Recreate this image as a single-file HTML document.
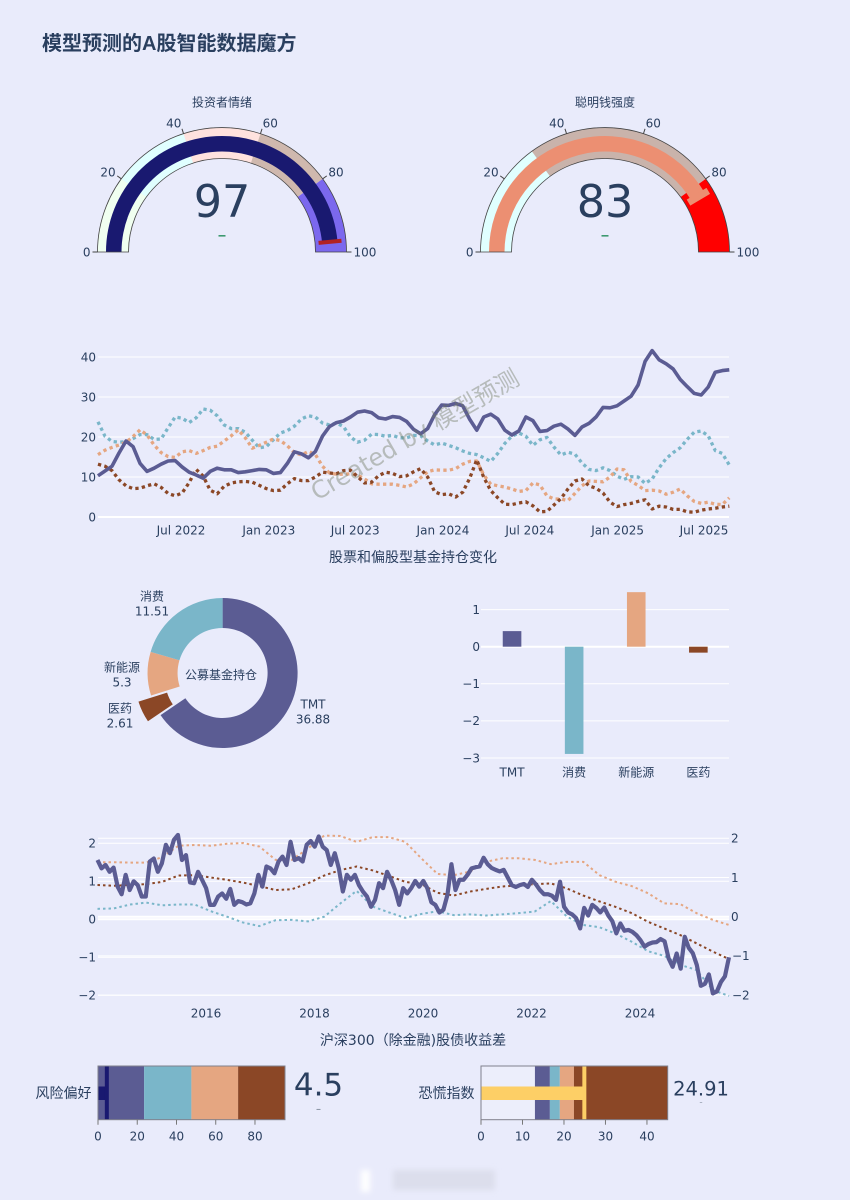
<!DOCTYPE html>
<html lang="zh">
<head>
<meta charset="utf-8">
<title>模型预测的A股智能数据魔方</title>
<style>
html,body{margin:0;padding:0;background:#e9ebfb;}
svg{display:block;font-family:"DejaVu Sans","Noto Sans CJK SC",sans-serif;fill:#2a3f5f;}
</style>
</head>
<body>
<svg id="root" width="850" height="1200" viewBox="0 0 850 1200" xmlns="http://www.w3.org/2000/svg">
<defs>
<filter id="blur" x="-50%" y="-50%" width="200%" height="200%"><feGaussianBlur stdDeviation="3"></feGaussianBlur></filter>
</defs>
<rect x="0" y="0" width="850" height="1200" fill="#e9ebfb"></rect>
<text x="42" y="50" font-size="20" font-weight="bold" style="font-family:'Liberation Sans','Noto Sans CJK SC',sans-serif">模型预测的A股智能数据魔方</text>
<g id="gaugeA"></g>
<g id="gaugeB"></g>
<g id="holdings"></g>
<text x="413" y="562" font-size="14" text-anchor="middle">股票和偏股型基金持仓变化</text>
<g id="donut"></g>
<g id="bars"></g>
<g id="spread"></g>
<text x="413" y="1045" font-size="14" text-anchor="middle">沪深300（除金融)股债收益差</text>
<g id="bulletA"></g>
<g id="bulletB"></g>
<g id="watermark">
<text x="415" y="443" font-size="24" text-anchor="middle" transform="rotate(-30 415 435)" fill="#6f7a62" fill-opacity="0.42">Created by 模型预测</text>
</g>
<g filter="url(#blur)">
<rect x="361" y="1170" width="9" height="22" fill="#ffffff"></rect>
<rect x="393" y="1170" width="102" height="20" fill="#dcdeec"></rect>
</g>
</svg>
<script>
// ---------- data: gauges ----------
const sentimentValue = 97;
const sentimentSteps = [0, 20, 40, 60, 80, 100];
const sentimentColors = ['#f0fff0', '#e0ffff', '#ffe2de', '#cfb8ae', '#7b68ee'];
const smartMoneyValue = 83;
const smartMoneySteps = [0, 30, 80, 100];
const smartMoneyColors = ['#e0ffff', '#c9b3ab', '#ff0000'];
const gaugeTicks = [0, 20, 40, 60, 80, 100];

// ---------- data: holdings lines ----------
const holdingsFirstDate = '2022-01-08';
const holdingsStepDays = 14.7;
const holdingsTickDates = ['2022-07-01', '2023-01-01', '2023-07-01', '2024-01-01', '2024-07-01', '2025-01-01', '2025-07-01'];
const holdingsTickLabels = ['Jul 2022', 'Jan 2023', 'Jul 2023', 'Jan 2024', 'Jul 2024', 'Jan 2025', 'Jul 2025'];
const holdingsYTicks = [0, 10, 20, 30, 40];
const holdingsTMT = [10.3,11.5,12.7,16,19,17.6,13.4,11.4,12.2,13.2,14,14.1,12.5,11.2,10.5,9.7,11.4,12.2,11.8,11.8,11.1,11.3,11.6,11.9,11.8,10.9,11.1,13.4,16.3,15.8,14.8,16.4,20.2,22.6,23.6,24,25,26.2,26.5,26.1,24.8,24.5,25.1,24.9,23.9,21.9,20.8,22.1,25.6,28,27.9,28.4,27.8,24.4,21.7,25,25.7,24.5,21.7,20.5,21.5,25,24.1,21.4,21.6,22.7,23.2,22,20.4,22.5,23.4,25,27.4,27.3,27.8,29,30.2,33,38.9,41.6,39.3,38.3,37,34.4,32.6,30.9,30.5,32.5,36.2,36.6,36.8];
const holdingsConsumer = [23.8,20.2,18.9,18.7,18.8,19.6,20.6,20.6,19.4,19.5,22.3,25,24.7,23.6,24.8,27,26.7,25.3,23,22.1,22.1,21.2,19.2,17.3,17.6,19.3,21,21.6,22.7,24.5,25.3,25,23.5,23,23.5,22.6,20,18.7,19.2,20.7,20.6,20.2,20.4,19.8,19.8,20.4,20.3,19,18,18.5,17.9,17.3,16.5,15.9,15.6,14.8,13.9,15.9,18.4,20.2,21,20.2,17.9,19.3,19.9,17.5,15.5,16.2,15.7,13.5,11.9,11.6,12.3,11.6,10.2,9.4,10.1,10,8.4,9.5,12.3,14.6,16.1,17.3,19.4,21.2,21.5,20.3,16.6,15.9,13];
const holdingsEnergy = [15.6,16.7,17.4,18,18.7,20.1,21.8,20.5,18,16.1,15.1,14.9,16.3,16.6,15.9,16.6,17.4,17.7,19,20.3,21.8,19.8,17.2,17.9,18.7,19.5,19.1,17.8,16.1,15.5,16.4,15.6,12.7,11,10.7,10.7,10.8,10.5,9.5,8.3,8.2,8.2,8.2,7.9,7.5,8.3,9.8,11.3,11.8,11.7,11.7,12.1,13.2,13.9,14,10.5,8.2,7.8,7.5,7,6.4,6.6,8.5,8,5.3,4.5,4.5,4.1,5.9,7.8,9,8.9,8.8,10,12,11.8,8.9,7.9,6.6,6.7,6.5,5.7,6.2,7,5.3,3.9,3.4,3.7,3.2,3.1,4.8];
const holdingsPharma = [13.2,12.7,11.6,9.3,7.8,7.1,7.2,7.8,8.3,7.4,5.9,5.3,6,8.6,11.9,10.2,6.7,5.8,7.7,8.5,8.8,8.9,8.7,7.9,7.1,6.6,6.7,8.3,9.6,9.1,9.1,10,11.2,11,10.8,11.6,11.7,10.1,8.5,8.7,10.3,11.2,10.9,10.1,10.3,11.3,12.1,10,6.3,5.6,5.8,5,6.2,9.7,14.3,9.9,6.6,4.8,3.2,3.1,3.5,3.8,2.8,1.3,1.4,3,4.6,7,9,9.5,7.8,7.2,6,3.7,2.6,3.1,3.4,3.9,4.3,2,2.7,2.5,1.9,1.9,1.3,1.2,1.7,2,2.2,2.5,2.7];

// ---------- data: donut + bars ----------
const sectorNames = ['TMT', '消费', '新能源', '医药'];
const donutOrder = ['TMT', '医药', '新能源', '消费'];
const donutValues = [36.88, 2.61, 5.3, 11.51];
const changeValues = [0.42, -2.89, 1.47, -0.16];
const changeTicks = [1, 0, -1, -2, -3];

// ---------- data: spread ----------
const spreadStartYear = 2014.0;
const spreadEndYear = 2025.64;
const spreadXTicks = [2016, 2018, 2020, 2022, 2024];
const spreadLeftTicks = [2, 1, 0, -1, -2];
const spreadRightTicks = [2, 1, 0, -1, -2];
const spreadMain = [1.56,1.34,1.43,1.25,1.36,.86,.66,1.17,.77,1.0,.9,.6,.6,1.52,1.6,1.25,1.47,1.96,1.74,2.09,2.22,1.56,1.69,.97,.95,1.25,1.04,.82,.38,.38,.6,.68,.54,.8,.38,.48,.45,.39,.42,.68,1.17,.86,1.39,1.34,1.21,1.52,1.65,1.43,2.04,1.56,1.61,1.52,1.96,2.06,1.91,2.18,1.91,1.82,1.43,1.74,1.34,.73,1.17,1.04,1.17,.9,.73,.6,.33,.51,.95,.82,1.25,1.04,.77,.38,.82,.68,.82,1.01,.86,1.01,.82,.45,.38,.18,.25,.64,1.45,.77,1.04,1.04,1.17,1.34,1.37,1.39,1.62,1.45,1.35,1.3,1.26,1.3,1.1,.9,.85,.9,.93,.85,1.04,.92,.77,.66,.66,.62,.51,.99,.33,.18,.13,.03,-.24,.3,.1,.38,.3,.18,.31,.1,-.05,-.37,-.11,-.3,-.28,-.33,-.42,-.55,-.72,-.65,-.61,-.6,-.52,-.58,-1.03,-1.25,-.9,-1.3,-.46,-.75,-.89,-1.2,-1.75,-1.7,-1.45,-1.95,-1.9,-1.65,-1.5,-1.0];
const spreadUpper = [1.39,1.39,1.38,1.38,1.52,1.81,1.83,1.81,1.86,1.88,1.79,1.45,1.45,1.74,2.07,2.06,1.91,2.03,2.03,1.91,1.49,1.09,1.06,1.15,1.4,1.49,1.49,1.45,1.34,1.4,1.4,1.06,.89,.78,.6,.34,.32,.09,-.08,-.21];
const spreadMiddle = [.81,.79,.81,.83,.89,1.05,1.06,1.0,.94,.87,.78,.68,.7,.85,1.05,1.19,1.28,1.18,1.04,.89,.83,.61,.54,.64,.71,.77,.8,.83,.85,.72,.54,.39,.25,.09,-.13,-.3,-.47,-.68,-.89,-1.08];
const spreadLower = [.2,.21,.31,.36,.29,.31,.31,.14,0,-.15,-.24,-.09,-.08,-.12,0,.34,.66,.26,.11,-.03,.07,.14,.04,.06,.03,.06,.09,.13,.4,0,-.21,-.27,-.43,-.64,-.88,-1,-1.23,-1.36,-1.87,-2.02];

// ---------- data: bullets ----------
const riskValue = 4.5;
const riskSteps = [0, 23.5, 47.6, 71.4, 95.3];
const riskColors = ['#5b5c93', '#7ab6c9', '#e5a681', '#8b4726'];
const riskTicks = [0, 20, 40, 60, 80];
const fearValue = 24.91;
const fearSteps = [0, 13, 16.6, 19, 22.4, 45];
const fearColors = ['#eceefb', '#5b5c93', '#7ab6c9', '#e5a681', '#8b4726'];
const fearTicks = [0, 10, 20, 30, 40];

// ---------- palette ----------
const cTMT = '#5b5c93', cConsumer = '#7ab6c9', cEnergy = '#e5a681', cPharma = '#8b4726';
const SVGNS = 'http://www.w3.org/2000/svg';

function make(parent, tag, attrs, text) {
  const el = document.createElementNS(SVGNS, tag);
  for (const k in attrs) el.setAttribute(k, attrs[k]);
  if (text !== undefined) el.textContent = text;
  parent.appendChild(el);
  return el;
}
function linear(d0, d1, r0, r1) {
  return function (v) { return r0 + (v - d0) / (d1 - d0) * (r1 - r0); };
}
function pathFrom(xs, ys) {
  let d = '';
  for (let i = 0; i < xs.length; i++) d += (i ? 'L' : 'M') + xs[i].toFixed(2) + ',' + ys[i].toFixed(2);
  return d;
}
function fmtMinus(v) { return String(v).replace('-', '\u2212'); }

// ---------- gauges ----------
function ringPath(cx, cy, rOut, rIn, v0, v1) {
  const a0 = Math.PI * (1 - v0 / 100), a1 = Math.PI * (1 - v1 / 100);
  const p = (r, a) => (cx + r * Math.cos(a)).toFixed(2) + ',' + (cy - r * Math.sin(a)).toFixed(2);
  return 'M' + p(rOut, a0) + 'A' + rOut + ',' + rOut + ' 0 0 1 ' + p(rOut, a1) +
    'L' + p(rIn, a1) + 'A' + rIn + ',' + rIn + ' 0 0 0 ' + p(rIn, a0) + 'Z';
}
function drawGauge(id, cx, title, value, steps, colors, barColor, thColor, thWidth) {
  const g = document.getElementById(id);
  const cy = 252, R = 124.5, r = 93.5, barOut = 116, barIn = 100.5, thOut = 120, thIn = 97;
  const t = make(g, 'text', { x: cx, y: 106.5, 'font-size': 12, 'text-anchor': 'middle' }, title);
  
  
  for (let i = 0; i < colors.length; i++) {
    const s = make(g, 'path', { d: ringPath(cx, cy, R, r, steps[i], steps[i + 1]), fill: colors[i] });
    
    
  }
  const bar = make(g, 'path', { d: ringPath(cx, cy, barOut, barIn, 0, value), fill: barColor });
  
  
  const a = Math.PI * (1 - value / 100);
  const th = make(g, 'line', {
    x1: cx + thIn * Math.cos(a), y1: cy - thIn * Math.sin(a),
    x2: cx + thOut * Math.cos(a), y2: cy - thOut * Math.sin(a),
    stroke: thColor, 'stroke-width': thWidth
  });
  
  
  const border = make(g, 'path', { d: ringPath(cx, cy, R, r, 0, 100), fill: 'none', stroke: '#444', 'stroke-width': 0.8 });
  
  
  gaugeTicks.forEach(function (tv) {
    const ta = Math.PI * (1 - tv / 100), c = Math.cos(ta), sn = Math.sin(ta);
    const tick = make(g, 'line', {
      x1: cx + R * c, y1: cy - R * sn, x2: cx + (R + 5) * c, y2: cy - (R + 5) * sn,
      stroke: '#444', 'stroke-width': 1
    });
    
    
    const w = String(tv).length * 7.63;
    const lx = cx + c * (R + 7) + Math.sign(c) * w / 2;
    const ly = cy - sn * (R + 11);
    const lab = make(g, 'text', { x: lx, y: ly + 4.3, 'font-size': 12, 'text-anchor': 'middle' }, String(tv));
    
    
  });
  const num = make(g, 'text', { x: cx, y: 217, 'font-size': 44.5, 'text-anchor': 'middle' }, String(value));
  
  
  const delta = make(g, 'rect', { x: cx - 3.5, y: 235, width: 7, height: 1.6, fill: '#3d9970' });
  
  
}
drawGauge('gaugeA', 222, '投资者情绪', sentimentValue, sentimentSteps, sentimentColors, '#191970', '#b22222', 4);
drawGauge('gaugeB', 605, '聪明钱强度', smartMoneyValue, smartMoneySteps, smartMoneyColors, '#ec8f72', '#ec8f72', 7);

// ---------- holdings chart ----------
(function () {
  const g = document.getElementById('holdings');
  const t0 = Date.parse(holdingsFirstDate), dayMs = 86400000;
  const x = linear(Date.parse('2022-07-01'), Date.parse('2025-07-01'), 181, 704);
  const y = linear(0, 40, 517, 357);
  holdingsYTicks.forEach(function (v) {
    const gl = make(g, 'line', { x1: 98, x2: 729, y1: y(v), y2: y(v), stroke: '#fff', 'stroke-width': v === 0 ? 2 : 1 });
    
    
    const lb = make(g, 'text', { x: 96, y: y(v) + 4.3, 'font-size': 12, 'text-anchor': 'end' }, String(v));
    
    
  });
  holdingsTickDates.forEach(function (d, i) {
    const lb = make(g, 'text', { x: x(Date.parse(d)), y: 534.5, 'font-size': 12, 'text-anchor': 'middle' }, holdingsTickLabels[i]);
    
    
  });
  function xs(arr) { return arr.map(function (_, i) { return x(t0 + i * holdingsStepDays * dayMs); }); }
  const dotted = [[holdingsConsumer, cConsumer, 'line-consumer'], [holdingsEnergy, cEnergy, 'line-new-energy'], [holdingsPharma, cPharma, 'line-pharma']];
  dotted.forEach(function (s) {
    const p = make(g, 'path', { d: pathFrom(xs(s[0]), s[0].map(y)), fill: 'none', stroke: s[1], 'stroke-width': 3.3, 'stroke-dasharray': '3.3,3.3', 'stroke-linejoin': 'round' });
    
    
  });
  const main = make(g, 'path', { d: pathFrom(xs(holdingsTMT), holdingsTMT.map(y)), fill: 'none', stroke: cTMT, 'stroke-width': 3.6, 'stroke-linejoin': 'round' });
  
  
})();

// ---------- donut ----------
(function () {
  const g = document.getElementById('donut');
  const cx = 222.6, cy = 673, R = 75, r = 45, pull = 14;
  const colors = { 'TMT': cTMT, '消费': cConsumer, '新能源': cEnergy, '医药': cPharma };
  const labelPos = { 'TMT': [313, 704], '消费': [152, 596], '新能源': [122, 667], '医药': [120, 708] };
  const total = donutValues.reduce(function (a, b) { return a + b; }, 0);
  let acc = 0;
  donutValues.forEach(function (v, i) {
    const a0 = acc / total * 2 * Math.PI, a1 = (acc + v) / total * 2 * Math.PI;
    acc += v;
    const mid = (a0 + a1) / 2;
    const off = donutOrder[i] === '医药' ? pull : 0;
    const ox = cx + off * Math.sin(mid), oy = cy - off * Math.cos(mid);
    const pt = function (rad, a) { return (ox + rad * Math.sin(a)).toFixed(2) + ',' + (oy - rad * Math.cos(a)).toFixed(2); };
    const large = a1 - a0 > Math.PI ? 1 : 0;
    const d = 'M' + pt(R, a0) + 'A' + R + ',' + R + ' 0 ' + large + ' 1 ' + pt(R, a1) + 'L' + pt(r, a1) + 'A' + r + ',' + r + ' 0 ' + large + ' 0 ' + pt(r, a0) + 'Z';
    const s = make(g, 'path', { d: d, fill: colors[donutOrder[i]] });
    
    
    const lp = labelPos[donutOrder[i]];
    const n = make(g, 'text', { x: lp[0], y: lp[1] + 4.3, 'font-size': 12, 'text-anchor': 'middle' }, donutOrder[i]);
    
    
    const val = make(g, 'text', { x: lp[0], y: lp[1] + 19.3, 'font-size': 12, 'text-anchor': 'middle' }, String(v));
    
    
  });
  const c = make(g, 'text', { x: 221, y: 679, 'font-size': 12, 'text-anchor': 'middle' }, '公募基金持仓');
  
  
})();

// ---------- bars ----------
(function () {
  const g = document.getElementById('bars');
  const y = linear(0, -3, 646.7, 758);
  const colors = [cTMT, cConsumer, cEnergy, cPharma];
  const band = 62.1, x0 = 481;
  changeTicks.forEach(function (v) {
    const gl = make(g, 'line', { x1: 481, x2: 729, y1: y(v), y2: y(v), stroke: '#fff', 'stroke-width': v === 0 ? 2 : 1 });
    
    
    const lb = make(g, 'text', { x: 480, y: y(v) + 4.3, 'font-size': 12, 'text-anchor': 'end' }, fmtMinus(v));
    
    
  });
  changeValues.forEach(function (v, i) {
    const cxb = x0 + band * (i + 0.5);
    const top = Math.min(y(v), y(0)), h = Math.abs(y(v) - y(0));
    const b = make(g, 'rect', { x: cxb - 9.3, y: top, width: 18.6, height: h, fill: colors[i] });
    
    
    const lb = make(g, 'text', { x: cxb, y: 776.3, 'font-size': 12, 'text-anchor': 'middle' }, sectorNames[i]);
    
    
  });
})();

// ---------- spread ----------
(function () {
  const g = document.getElementById('spread');
  const x = linear(2016, 2024, 206, 640);
  const yL = linear(0, 2, 919.3, 843.3);
  const yR = linear(0, 2, 916.7, 838.3);
  spreadLeftTicks.forEach(function (v) {
    const gl = make(g, 'line', { x1: 98, x2: 729, y1: yL(v), y2: yL(v), stroke: '#fff', 'stroke-width': v === 0 ? 2 : 1 });
    
    
    const lb = make(g, 'text', { x: 96, y: yL(v) + 4.3, 'font-size': 12, 'text-anchor': 'end' }, fmtMinus(v));
    
    
  });
  spreadRightTicks.forEach(function (v) {
    const gl = make(g, 'line', { x1: 98, x2: 729, y1: yR(v), y2: yR(v), stroke: '#fff', 'stroke-width': v === 0 ? 2 : 1 });
    
    
    const lb = make(g, 'text', { x: v < 0 ? 732 : 731, y: yR(v) + 4.3, 'font-size': 12, 'text-anchor': 'start' }, fmtMinus(v));
    
    
  });
  spreadXTicks.forEach(function (v) {
    const lb = make(g, 'text', { x: x(v), y: 1017.5, 'font-size': 12, 'text-anchor': 'middle' }, String(v));
    
    
  });
  function xs(arr) {
    return arr.map(function (_, i) { return x(spreadStartYear + (spreadEndYear - spreadStartYear) * i / (arr.length - 1)); });
  }
  const bands = [[spreadUpper, cEnergy, 'band-upper'], [spreadMiddle, cPharma, 'band-middle'], [spreadLower, cConsumer, 'band-lower']];
  bands.forEach(function (s) {
    const p = make(g, 'path', { d: pathFrom(xs(s[0]), s[0].map(yR)), fill: 'none', stroke: s[1], 'stroke-width': 2, 'stroke-dasharray': '2.5,3', 'stroke-linejoin': 'round' });
    
    
  });
  const main = make(g, 'path', { d: pathFrom(xs(spreadMain), spreadMain.map(yL)), fill: 'none', stroke: cTMT, 'stroke-width': 4.2, 'stroke-linejoin': 'round' });
  
  
})();

// ---------- bullets ----------
function drawBullet(id, label, labelX, x0, x1, steps, colors, ticks, value, barColor, numX, numSize, deltaY, deltaSize) {
  const g = document.getElementById(id);
  const top = 1066, bottom = 1119.7, mid = 1093;
  const x = linear(0, steps[steps.length - 1], x0, x1);
  const lb = make(g, 'text', { x: labelX, y: 1098, 'font-size': 14, 'text-anchor': 'end' }, label);
  
  
  colors.forEach(function (c, i) {
    const s = make(g, 'rect', { x: x(steps[i]), y: top, width: x(steps[i + 1]) - x(steps[i]), height: bottom - top, fill: c });
    
    
  });
  const bar = make(g, 'rect', { x: x(0), y: mid - 6.5, width: x(value) - x(0), height: 13.5, fill: barColor });
  
  
  const th = make(g, 'rect', { x: x(value) - 2, y: top, width: 4, height: bottom - top, fill: barColor });
  
  
  const border = make(g, 'rect', { x: x0, y: top, width: x1 - x0, height: bottom - top, fill: 'none', stroke: '#80808c', 'stroke-width': 1 });
  
  
  ticks.forEach(function (t) {
    const tk = make(g, 'line', { x1: x(t), x2: x(t), y1: bottom, y2: bottom + 5, stroke: '#777', 'stroke-width': 1 });
    
    
    const tl = make(g, 'text', { x: x(t), y: 1140.3, 'font-size': 12, 'text-anchor': 'middle' }, String(t));
    
    
  });
  const num = make(g, 'text', { x: numX, y: 1095.7, 'font-size': numSize, 'text-anchor': 'middle' }, String(value));
  
  
  const dl = make(g, 'text', { x: numX, y: deltaY, 'font-size': deltaSize, 'text-anchor': 'middle', fill: '#5c6b7a' }, '\u2013');
  
  
}
drawBullet('bulletA', '风险偏好', 91.5, 98, 285, riskSteps, riskColors, riskTicks, riskValue, '#191970', 318.5, 31, 1112, 10);
drawBullet('bulletB', '恐慌指数', 474.5, 481, 667.7, fearSteps, fearColors, fearTicks, fearValue, '#fdcf66', 701, 19.5, 1104, 6);
</script>
</body>
</html>
